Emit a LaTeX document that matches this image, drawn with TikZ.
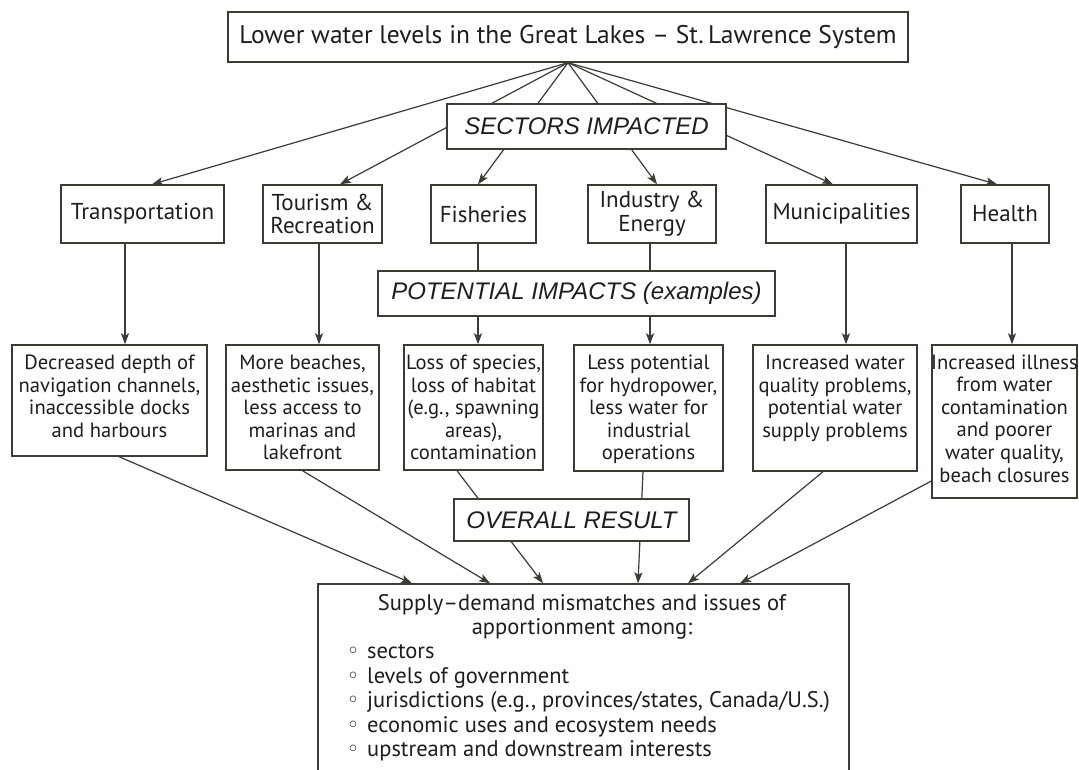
\documentclass[tikz,border=0pt]{standalone}
\usepackage{fontspec}
\setmainfont{PT Sans}
\newfontfamily\helv{Liberation Sans}
\newfontfamily\dejavu{DejaVu Sans}
\usetikzlibrary{arrows.meta}
\definecolor{lc}{RGB}{62,58,52}
\definecolor{tc}{RGB}{30,30,30}
\begin{document}
\begin{tikzpicture}[x=1pt,y=-1pt,
  box/.style={draw=lc, line width=1.4pt, fill=white, inner sep=0pt, align=center, text=tc},
  conn/.style={draw=lc, line width=1.2pt},
  arr/.style={conn, -{Stealth[length=11pt,width=8pt,inset=2.5pt]}},
  txt/.style={align=center, text=tc, inner sep=0pt, font=\fontsize{20.6}{22.6}\selectfont},
  sec/.style={box, font=\fontsize{23}{23.5}\selectfont},
  lab/.style={box, font=\helv\itshape\fontsize{24}{26}\selectfont},
  btxt/.style={text=tc, inner sep=0pt, anchor=base west, font=\fontsize{22.5}{24}\selectfont},
  bul/.style={text=tc, inner sep=0pt, anchor=base, font=\dejavu\fontsize{22}{22}\selectfont},
]
\useasboundingbox (0,0) rectangle (1079,770);
\clip (0,0) rectangle (1079,770);
\fill[white] (0,0) rectangle (1079,770);

% top
\node[box, font=\fontsize{25.5}{26}\selectfont, minimum width=680, minimum height=50] (top) at (568,37) {Lower water levels in the Great Lakes – St.\,Lawrence System};

% sectors
\node[sec, minimum width=163, minimum height=58] (trans) at (142.5,214) {Transportation};
\node[sec, minimum width=119, minimum height=58] (tour) at (322.5,214) {Tourism \&\\Recreation};
\node[sec, minimum width=105, minimum height=58] (fish) at (483.5,214) {Fisheries};
\node[sec, minimum width=128, minimum height=58] (ind) at (652,214) {Industry \&\\Energy};
\node[sec, minimum width=151, minimum height=58] (muni) at (841.5,214) {Municipalities};
\node[sec, minimum width=88, minimum height=58] (health) at (1005,214) {Health};

\draw[arr] (top.south) -- ([xshift=9.5]trans.north);
\draw[arr] (top.south) -- ([xshift=17.5]tour.north);
\draw[arr] (top.south) -- ([xshift=-5.5]fish.north);
\draw[arr] (top.south) -- ([xshift=5]ind.north);
\draw[arr] (top.south) -- ([xshift=-8.5]muni.north);
\draw[arr] (top.south) -- ([xshift=-8]health.north);

\node[lab, minimum width=279, minimum height=45] (sect) at (586.5,126.5) {SECTORS IMPACTED};

% impacts boxes
\node[box, minimum width=195, minimum height=111] (dec) at (109.5,400.5) {};
\node[box, minimum width=153, minimum height=125] (more) at (302.5,407.5) {};
\node[box, minimum width=139, minimum height=125] (loss) at (473.5,407.5) {};
\node[box, minimum width=149, minimum height=126] (less) at (648.5,408) {};
\node[box, minimum width=164, minimum height=126] (incw) at (835,408) {};
\node[box, minimum width=145, minimum height=153] (ill) at (1004.5,421.5) {};

\node[txt, anchor=north] at ([yshift=-10.5]dec.north) {Decreased depth of\\navigation channels,\\inaccessible docks\\and harbours};
\node[txt, anchor=north] at ([yshift=-10.5]more.north) {More beaches,\\aesthetic issues,\\less access to\\marinas and\\lakefront};
\node[txt, anchor=north] at ([yshift=-10.5]loss.north) {Loss of species,\\loss of habitat\\(e.g., spawning\\areas),\\contamination};
\node[txt, anchor=north] at ([yshift=-10.5]less.north) {Less potential\\for hydropower,\\less water for\\industrial\\operations};
\node[txt, anchor=north] at ([yshift=-10.5]incw.north) {Increased water\\quality problems,\\potential water\\supply problems};
\node[txt, anchor=north] at ([yshift=-10]ill.north) {Increased illness\\from water\\contamination\\and poorer\\water quality,\\beach closures};

\draw[arr] ([xshift=-17.5]trans.south) coordinate (v1) -- (v1 |- dec.north);
\draw[arr] ([xshift=-3.5]tour.south) coordinate (v2) -- (v2 |- more.north);
\draw[arr] ([xshift=-5.5]fish.south) coordinate (v3) -- (v3 |- loss.north);
\draw[arr] ([xshift=-2]ind.south) coordinate (v4) -- (v4 |- less.north);
\draw[arr] ([xshift=4.5]muni.south) coordinate (v5) -- (v5 |- incw.north);
\draw[arr] ([xshift=7]health.south) coordinate (v6) -- (v6 |- ill.north);

\node[lab, minimum width=397, minimum height=45] (pot) at (576.5,293.5) {POTENTIAL IMPACTS (examples)};

% result
\node[box, minimum width=531, minimum height=216] (res) at (583.5,692) {};
\draw[arr] ([xshift=9.5]dec.south) -- ([xshift=-171.5]res.north);
\draw[arr] (more.south) -- ([xshift=-93.5]res.north);
\draw[arr] ([xshift=-16.5]loss.south) -- ([xshift=-40.5]res.north);
\draw[arr] ([xshift=-5.5]less.south) -- ([xshift=54.5]res.north);
\draw[arr] ([xshift=-12]incw.south) -- ([xshift=104.5]res.north);
\draw[arr] ([yshift=-59.5]ill.west) -- ([xshift=156.5]res.north);

\node[lab, minimum width=235, minimum height=42] (over) at (571.5,520) {OVERALL RESULT};

\node[txt, font=\fontsize{22.5}{24}\selectfont] (rt) at (582,617) {Supply–demand mismatches and issues of\\apportionment among:};
\node[bul] (c1) at (353,658) {◦};
\node[bul] (c2) at (353,683) {◦};
\node[bul] (c3) at (353,707) {◦};
\node[bul] (c4) at (353,732) {◦};
\node[bul] (c5) at (353,756) {◦};
\node[btxt] (b1) at (367,658) {sectors};
\node[btxt] (b2) at (367,683) {levels of government};
\node[btxt] (b3) at (367,707) {jurisdictions (e.g., provinces/states, Canada/U.S.)};
\node[btxt] (b4) at (367,732) {economic uses and ecosystem needs};
\node[btxt] (b5) at (367,756) {upstream and downstream interests};
\end{tikzpicture}
\end{document}
